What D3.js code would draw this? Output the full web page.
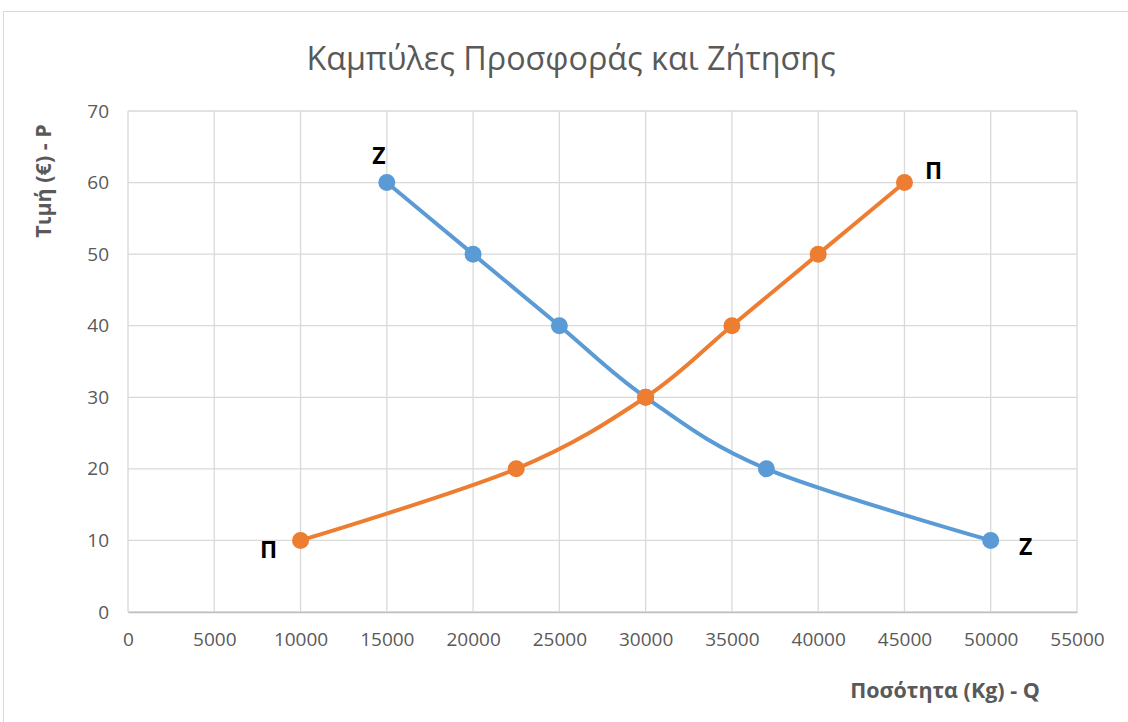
<!DOCTYPE html>
<html>
<head>
<meta charset="utf-8">
<script src="https://cdn.jsdelivr.net/npm/d3@7"></script>
<style>
  body { margin: 0; background: #fff; }
  text { font-family: "Open Sans", "Noto Sans", sans-serif; }
</style>
</head>
<body>
<svg id="chart"></svg>
<script>
// demand curve (Z)
const demandQ = [15000, 20000, 25000, 30000, 37000, 50000];
const demandP = [60, 50, 40, 30, 20, 10];
// supply curve (Π)
const supplyQ = [10000, 22500, 30000, 35000, 40000, 45000];
const supplyP = [10, 20, 30, 40, 50, 60];

const xTicks = [0, 5000, 10000, 15000, 20000, 25000, 30000, 35000, 40000, 45000, 50000, 55000];
const yTicks = [0, 10, 20, 30, 40, 50, 60, 70];

let svg = d3.select("#chart")
    .attr("width", 1128)
    .attr("height", 722),
  margin = {top: 111, right: 51, bottom: 110, left: 128},
  width = 1128 - margin.left - margin.right,
  height = 722 - margin.top - margin.bottom;

// outer chart border
svg.append("rect")
  .attr("x", 3.5).attr("y", 11.5)
  .attr("width", 1130).attr("height", 720)
  .attr("fill", "none")
  .attr("stroke", "#d9d9d9");

let g = svg.append("g").attr("transform", "translate(" + margin.left + "," + margin.top + ")");

let xScale = d3.scaleLinear().domain([0, 55000]).range([0, width]);
let yScale = d3.scaleLinear().domain([0, 70]).range([height, 0]);

// gridlines
g.append("g")
  .selectAll("line")
  .data(xTicks)
  .join("line")
  .attr("x1", d => xScale(d)).attr("x2", d => xScale(d))
  .attr("y1", 0).attr("y2", height)
  .attr("stroke", "#d9d9d9").attr("stroke-width", 1.3);

g.append("g")
  .selectAll("line")
  .data(yTicks)
  .join("line")
  .attr("x1", 0).attr("x2", width)
  .attr("y1", d => yScale(d)).attr("y2", d => yScale(d))
  .attr("stroke", "#d9d9d9").attr("stroke-width", 1.3);

// axes
let xAxis = d3.axisBottom(xScale).tickValues(xTicks).tickFormat(d3.format("d")).tickSize(0).tickPadding(21);
let yAxis = d3.axisLeft(yScale).tickValues(yTicks).tickSize(0).tickPadding(19);

let gx = g.append("g")
  .attr("transform", "translate(0," + height + ")")
  .call(xAxis);
gx.select(".domain").attr("stroke", "#bfbfbf").attr("stroke-width", 1.3);
gx.selectAll("text").attr("font-size", 19).attr("fill", "#595959");

let gy = g.append("g").call(yAxis);
gy.select(".domain").remove();
gy.selectAll("text").attr("font-size", 19).attr("fill", "#595959");

// titles
svg.append("text")
  .attr("x", 571).attr("y", 70)
  .attr("text-anchor", "middle")
  .attr("font-size", 32.3)
  .attr("fill", "#595959")
  .text("Καμπύλες Προσφοράς και Ζήτησης");

svg.append("text")
  .attr("transform", "translate(51,181) rotate(-90)")
  .attr("text-anchor", "middle")
  .attr("font-size", 21.5)
  .attr("font-weight", "bold")
  .attr("fill", "#595959")
  .text("Τιμή (€) - P");

svg.append("text")
  .attr("x", 945).attr("y", 698)
  .attr("text-anchor", "middle")
  .attr("font-size", 21.5)
  .attr("font-weight", "bold")
  .attr("fill", "#595959")
  .text("Ποσότητα (Kg) - Q");

// series
const series = [
  {q: demandQ, p: demandP, color: "#5b9bd5"},
  {q: supplyQ, p: supplyP, color: "#ed7d31"}
];

let line = d3.line()
  .x(d => xScale(d[0]))
  .y(d => yScale(d[1]))
  .curve(d3.curveCardinal.tension(0));

series.forEach(s => {
  let pts = s.q.map((q, i) => [q, s.p[i]]);
  g.append("path")
    .datum(pts)
    .attr("fill", "none")
    .attr("stroke", s.color)
    .attr("stroke-width", 4)
    .attr("stroke-linejoin", "round")
    .attr("stroke-linecap", "round")
    .attr("d", line);
  g.append("g")
    .selectAll("circle")
    .data(pts)
    .join("circle")
    .attr("cx", d => xScale(d[0]))
    .attr("cy", d => yScale(d[1]))
    .attr("r", 8.5)
    .attr("fill", s.color);
});

// curve end labels
const endLabels = [
  {q: demandQ[0], p: demandP[0], text: "Z", dx: -8, dy: -19},
  {q: demandQ[demandQ.length - 1], p: demandP[demandP.length - 1], text: "Z", dx: 35, dy: 15},
  {q: supplyQ[0], p: supplyP[0], text: "Π", dx: -32, dy: 18},
  {q: supplyQ[supplyQ.length - 1], p: supplyP[supplyP.length - 1], text: "Π", dx: 29, dy: -4}
];

g.append("g")
  .selectAll("text")
  .data(endLabels)
  .join("text")
  .attr("x", d => xScale(d.q) + d.dx)
  .attr("y", d => yScale(d.p) + d.dy)
  .attr("text-anchor", "middle")
  .attr("font-size", 23)
  .attr("font-weight", "bold")
  .attr("fill", "#000")
  .text(d => d.text);
</script>
</body>
</html>
